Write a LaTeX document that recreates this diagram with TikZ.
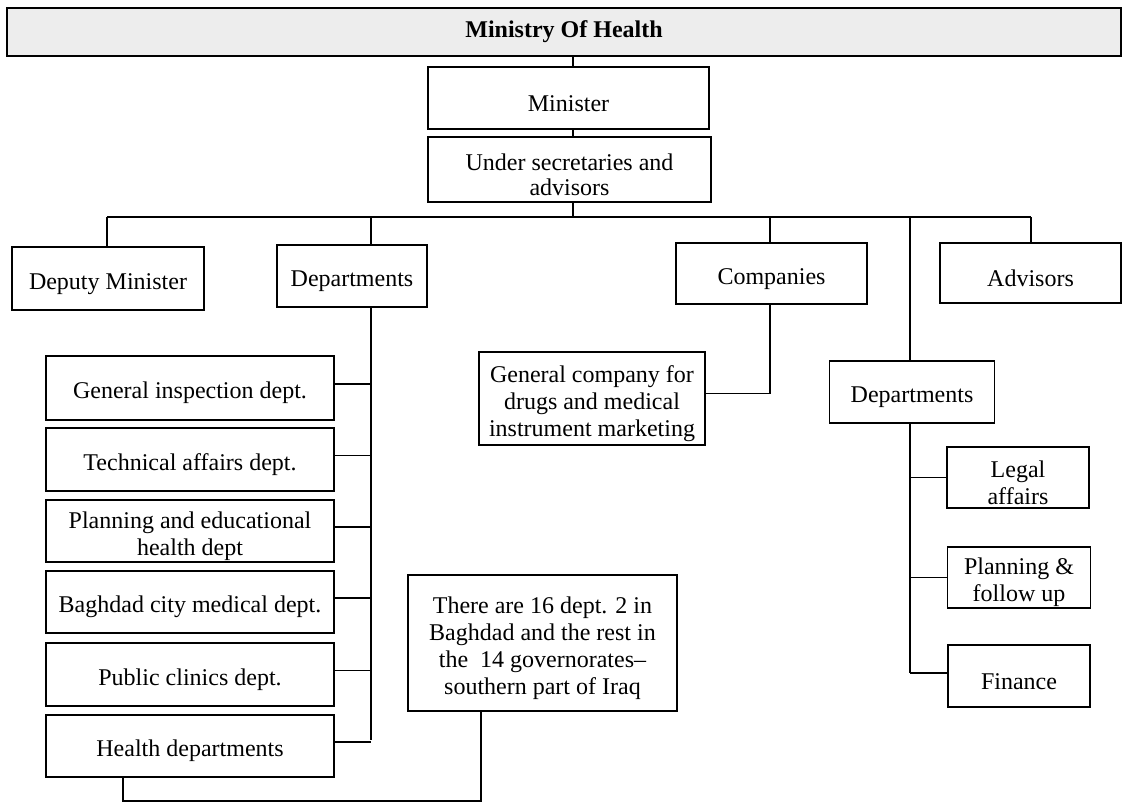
\documentclass[tikz,border=0pt]{standalone}
\usepackage{fontspec}
\setmainfont{Liberation Serif}
\newcommand\tstrut{\rule{0pt}{27pt}}
\begin{document}
\begin{tikzpicture}[x=1pt,y=1pt,
  every node/.style={font=\fontsize{24}{27}\selectfont},
  box/.style={draw, line width=1.2pt, inner sep=0pt, align=center},
  conn/.style={draw, line width=1.2pt}]
\useasboundingbox (0,0) rectangle (1123,-804);
% banner
\node[box, fill=black!7, line width=1.4pt, minimum width=1114, minimum height=48,
  font=\bfseries\fontsize{24}{27}\selectfont] (banner) at (564,-32) {Ministry Of Health};
\node[box, minimum width=281, minimum height=62] (minister) at (568.5,-98) {\tstrut Minister};
\node[box, minimum width=283, minimum height=65, font=\fontsize{24}{25}\selectfont] (under) at (569.5,-169.5) {\tstrut Under secretaries and\\advisors};
% second row
\node[box, minimum width=192, minimum height=63] (deputy) at (108,-278.5) {\tstrut Deputy Minister};
\node[box, minimum width=150, minimum height=62] (depts) at (352,-276) {\tstrut Departments};
\node[box, minimum width=191, minimum height=61] (companies) at (771.5,-273.5) {\tstrut Companies};
\node[box, minimum width=181, minimum height=60] (advisors) at (1030.5,-273) {\tstrut Advisors};
% left column
\node[box, minimum width=288, minimum height=64] (geninsp) at (190,-388) {\tstrut General inspection dept.};
\node[box, minimum width=288, minimum height=63] (tech) at (190,-459.5) {\tstrut Technical affairs dept.};
\node[box, minimum width=288, minimum height=62] (planning) at (190,-531) {\tstrut Planning and educational\\health dept};
\node[box, minimum width=288, minimum height=62] (baghdad) at (190,-602) {\tstrut Baghdad city medical dept.};
\node[box, minimum width=288, minimum height=63] (clinics) at (190,-674.5) {\tstrut Public clinics dept.};
\node[box, minimum width=288, minimum height=62] (health) at (190,-746) {\tstrut Health departments};
% middle
\node[box, minimum width=226, minimum height=93] (gencomp) at (592,-398.5) {\tstrut General company for\\drugs and medical\\instrument marketing};
\node[box, minimum width=269, minimum height=136] (there) at (542.5,-643) {\tstrut There are 16 dept. 2 in\\Baghdad and the rest in\\the\ \ 14 governorates--\\southern part of Iraq};
% right column
\node[box, minimum width=164.5, minimum height=62] (rdepts) at (912,-392) {\tstrut Departments};
\node[box, minimum width=142, minimum height=61] (legal) at (1018,-477.5) {\tstrut Legal\\affairs};
\node[box, minimum width=142.5, minimum height=61] (planfol) at (1019,-577.5) {\tstrut Planning \&\\follow up};
\node[box, minimum width=142, minimum height=62] (finance) at (1019,-676) {\tstrut Finance};
% coordinates for trunks
\coordinate (c) at (573,-217);
\coordinate (busL) at (107,-217);
\coordinate (busR) at (1031,-217);
\coordinate (ldx) at (371,-217);
\coordinate (cpx) at (770,-217);
\coordinate (rdx) at (910,-217);
\coordinate (hb) at (123,-801);
\coordinate (tb) at (481,-801);
% connectors
\draw[conn] (banner.south -| c) -- (minister.north -| c);
\draw[conn] (minister.south -| c) -- (under.north -| c);
\draw[conn] (under.south -| c) -- (c);
\draw[conn] (busL) -- (busR);
\draw[conn] (busL) -- (deputy.north -| busL);
\draw[conn] (ldx) -- (depts.north -| ldx);
\draw[conn] (cpx) -- (companies.north -| cpx);
\draw[conn] (rdx) -- (rdepts.north -| rdx);
\draw[conn] (busR) -- (advisors.north -| busR);
% left trunk
\draw[conn] (depts.south -| ldx) -- ([yshift=6pt]health.east -| ldx);
\foreach \n in {geninsp,tech,planning,baghdad,clinics,health}
  \draw[conn] ([yshift=4pt]\n.east) -- ([yshift=4pt]\n.east -| ldx);
% companies
\draw[conn] ([yshift=5pt]gencomp.east) -| (companies.south -| cpx);
% right trunk
\draw[conn] (rdepts.south -| rdx) -- ([yshift=3pt]finance.west -| rdx);
\draw[conn] (legal.west) -- (legal.west -| rdx);
\draw[conn] (planfol.west) -- (planfol.west -| rdx);
\draw[conn] ([yshift=3pt]finance.west) -- ([yshift=3pt]finance.west -| rdx);
% health to there
\draw[conn] (health.south -| hb) -- (hb) -- (tb) -- (there.south -| tb);
\end{tikzpicture}
\end{document}
